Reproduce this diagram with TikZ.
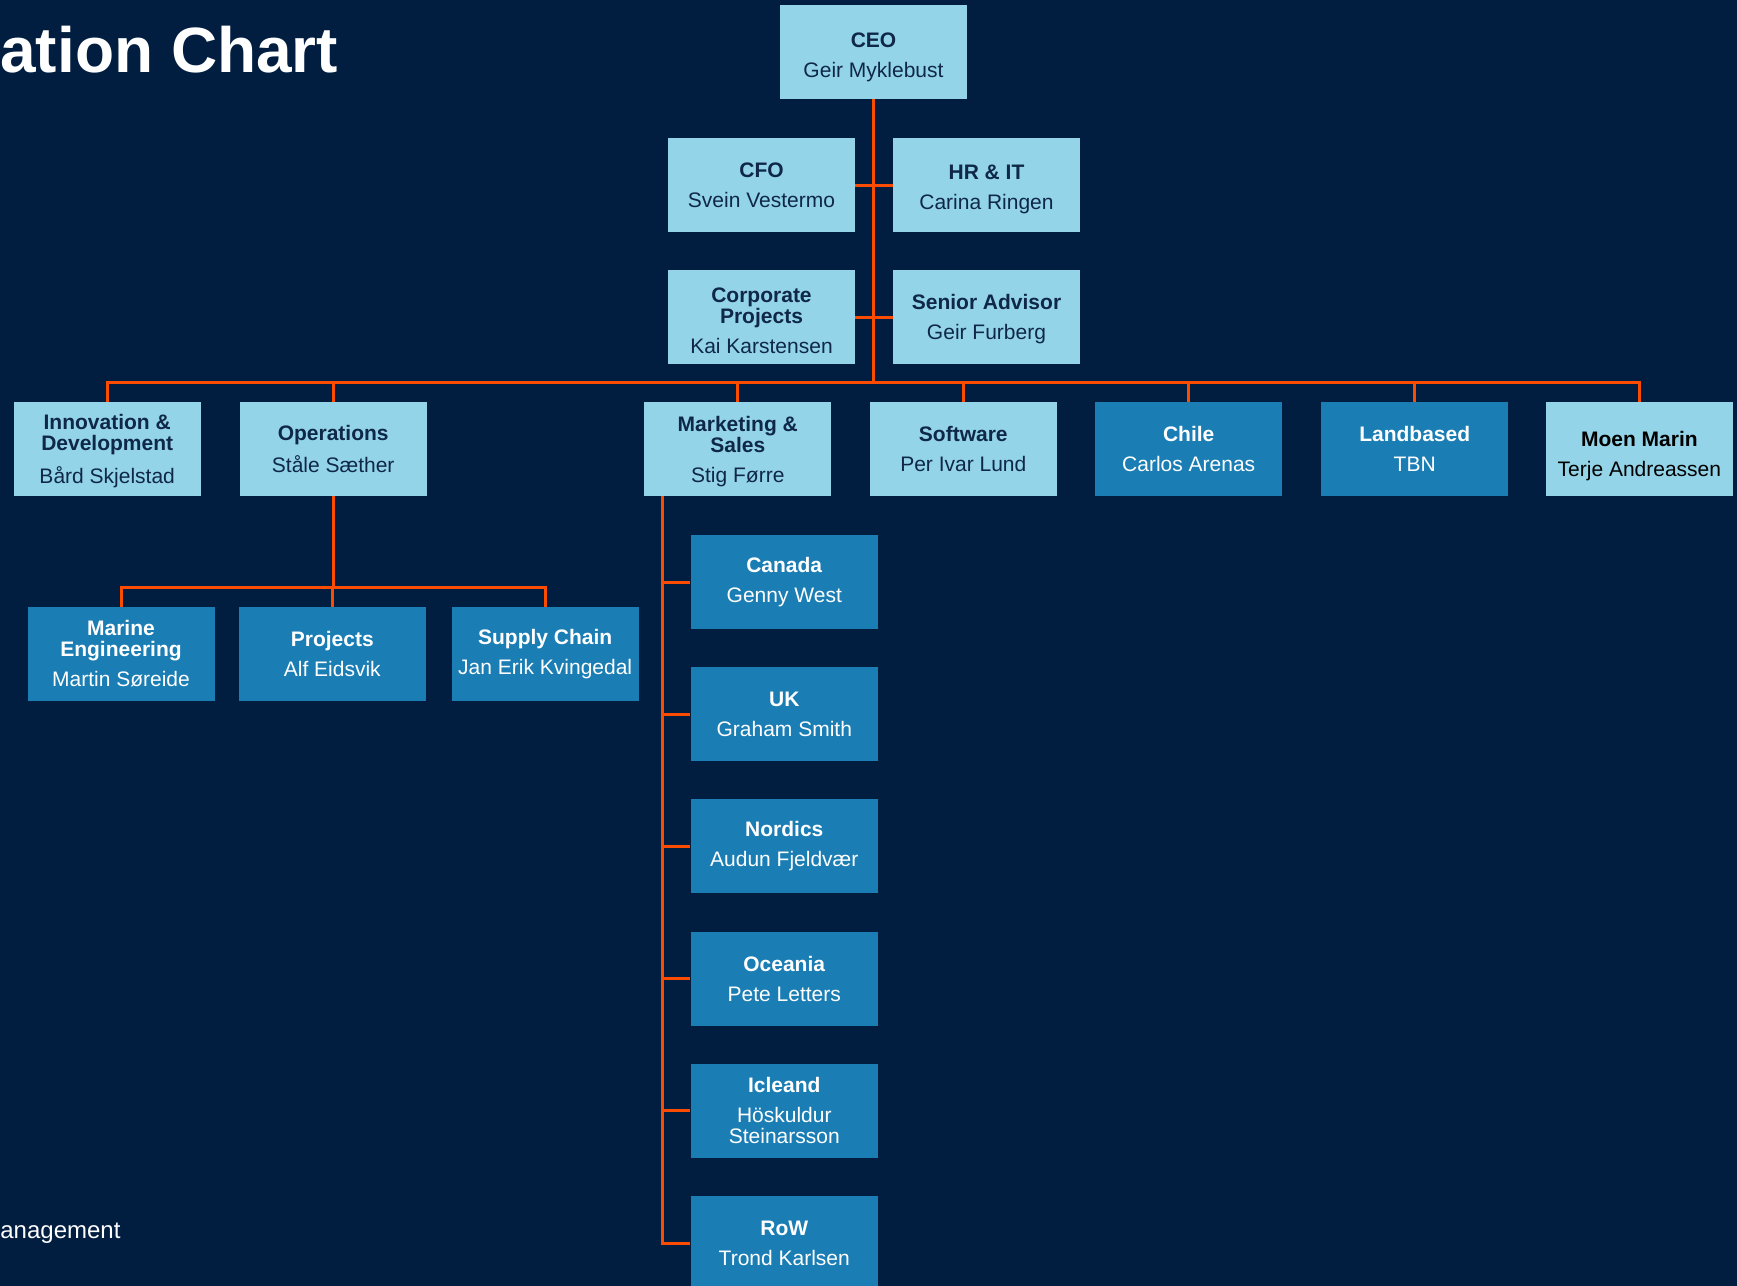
\documentclass[tikz,border=0pt]{standalone}
\usepackage{fontspec}
\setmainfont{Liberation Sans}
\usetikzlibrary{calc}
\definecolor{pagenavy}{HTML}{011E41}
\definecolor{boxlight}{HTML}{93D4E8}
\definecolor{boxdark}{HTML}{1A7DB4}
\definecolor{linkorange}{HTML}{FC4C02}
\definecolor{textnavy}{HTML}{0F2847}
\newcommand{\orgunit}[2]{\textbf{#1}\\[4.5pt]#2}
\newcommand{\topdrop}[1]{\rule{0pt}{#1}}
\begin{document}
\begin{tikzpicture}[x=0.5pt,y=-0.5pt,
		unitbox/.style={rectangle,minimum width=93.5pt,minimum height=47pt,inner sep=0pt,align=center,font=\fontsize{10.5}{10.5}\selectfont},
		lightunit/.style={unitbox,fill=boxlight,text=textnavy},
		darkunit/.style={unitbox,fill=boxdark,text=white},
		link/.style={draw=linkorange,line width=1.5pt}]
		\fill[pagenavy] (0,0) rectangle (1737,1286);
		\useasboundingbox (0,0) rectangle (1737,1286);
		\clip (0,0) rectangle (1737,1286);
		\node (title) at (0,72) [anchor=base west,inner sep=0pt,text=white,font=\fontsize{32}{32}\selectfont\bfseries] {ation Chart};
		\node (footer) at (0,1238) [anchor=base west,inner sep=0pt,text=white,font=\fontsize{12}{12}\selectfont] {anagement};
		\node (ceo) at (873.5,52) [lightunit] {\topdrop{13.1pt}\orgunit{CEO}{Geir Myklebust}};
		\node (cfo) at (761.5,185) [lightunit] {\orgunit{CFO}{Svein Vestermo}};
		\node (hrit) at (986.5,185) [lightunit] {\topdrop{12pt}\orgunit{HR \& IT}{Carina Ringen}};
		\node (corp) at (761.5,317) [lightunit] {\topdrop{11.4pt}\textbf{Corporate}\\\textbf{Projects}\\[4.5pt]Kai Karstensen};
		\node (senior) at (986.5,317) [lightunit] {\topdrop{9.2pt}\orgunit{Senior Advisor}{Geir Furberg}};
		\node (innov) at (107.2,449) [lightunit] {\topdrop{9.8pt}\textbf{Innovation \&}\\\textbf{Development}\\[4.5pt]Bård Skjelstad};
		\node (ops) at (333.2,449) [lightunit] {\orgunit{Operations}{Ståle Sæther}};
		\node (mkt) at (737.8,449) [lightunit] {\topdrop{9.8pt}\textbf{Marketing \&}\\\textbf{Sales}\\[4.5pt]Stig Førre};
		\node (soft) at (963.3,449) [lightunit] {\orgunit{Software}{Per Ivar Lund}};
		\node (chile) at (1188.7,449) [darkunit] {\orgunit{Chile}{Carlos Arenas}};
		\node (land) at (1414.7,449) [darkunit] {\orgunit{Landbased}{TBN}};
		\node (moen) at (1639.4,449) [lightunit,text=black] {\topdrop{14.2pt}\orgunit{Moen Marin}{Terje Andreassen}};
		\node (marine) at (121,654) [darkunit] {\textbf{Marine}\\\textbf{Engineering}\\[4.5pt]Martin Søreide};
		\node (projects) at (332.3,654) [darkunit] {\orgunit{Projects}{Alf Eidsvik}};
		\node (supply) at (545.2,654) [darkunit] {\orgunit{Supply Chain}{Jan Erik Kvingedal}};
		\node (canada) at (784.3,582) [darkunit] {\orgunit{Canada}{Genny West}};
		\node (uk) at (784.3,714.2) [darkunit] {\orgunit{UK}{Graham Smith}};
		\node (nordics) at (784.3,846.4) [darkunit] {\orgunit{Nordics}{Audun Fjeldvær}};
		\node (oceania) at (784.3,978.6) [darkunit] {\orgunit{Oceania}{Pete Letters}};
		\node (iceland) at (784.3,1110.8) [darkunit] {\textbf{Icleand}\\[4.5pt]Höskuldur\\Steinarsson};
		\node (row) at (784.3,1243) [darkunit] {\orgunit{RoW}{Trond Karlsen}};
		\coordinate (bus) at (0,382.5);
		\coordinate (opsbus) at (0,587);
		\coordinate (spine) at ($(mkt.south west)+(18.6,0)$);
		\draw[link] (ceo.south) -- (ceo |- bus);
		\draw[link] (cfo.east) -- (hrit.west);
		\draw[link] (corp.east) -- (senior.west);
		\draw[link] (innov.north) |- (moen |- bus) -- (moen.north);
		\foreach \n in {ops,mkt,soft,chile,land}
			\draw[link] (\n.north) -- (\n |- bus);
		\draw[link] (ops.south) -- (ops |- opsbus);
		\draw[link] (marine.north) |- (supply |- opsbus) -- (supply.north);
		\draw[link] (projects.north) -- (projects |- opsbus);
		\foreach \n in {canada,uk,nordics,oceania,iceland,row}
			\draw[link] (spine) |- (\n.west);
	\end{tikzpicture}
\end{document}
